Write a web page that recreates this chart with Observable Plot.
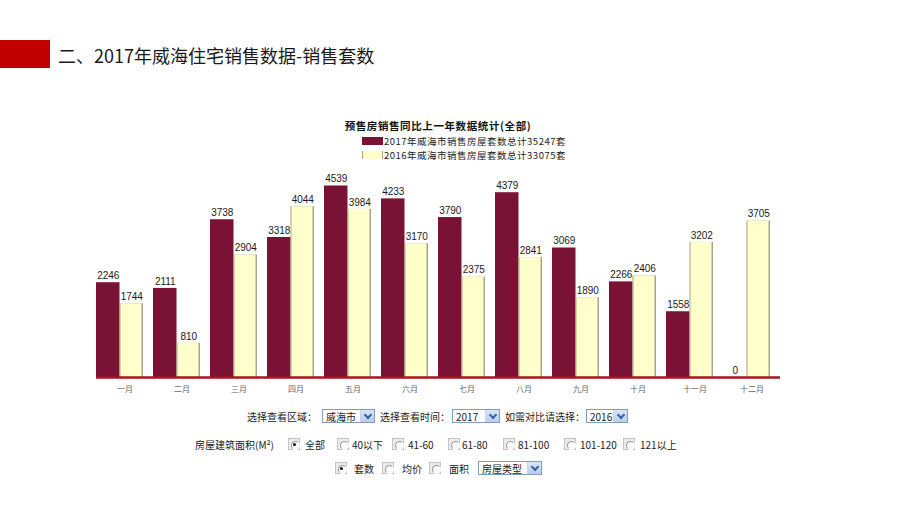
<!DOCTYPE html>
<html>
<head>
<meta charset="utf-8">
<script src="https://cdn.jsdelivr.net/npm/d3@7"></script>
<script src="https://cdn.jsdelivr.net/npm/@observablehq/plot@0.6"></script>
<style>
  html, body { margin: 0; padding: 0; background: #fff; }
  #page { position: relative; width: 920px; height: 518px; overflow: hidden; font-family: "Noto Sans CJK SC", "Noto Sans", sans-serif; }
  #redblock { position: absolute; left: 0; top: 40px; width: 50px; height: 28px; background: #c00000; }
  #title { position: absolute; left: 58px; top: 43px; font-size: 18px; line-height: 24px; color: #1a1a1a; white-space: nowrap; }
  #ctitle { position: absolute; left: 0; width: 876px; text-align: center; top: 118px; font-size: 10.5px; letter-spacing: 0.6px; font-weight: 700; color: #111; line-height: 16px; }
  .leg { position: absolute; left: 362px; font-size: 9.5px; letter-spacing: 0.5px; line-height: 12px; height: 12px; color: #222; display: flex; align-items: center; white-space: nowrap; }
  .sw { width: 21px; height: 8px; margin-right: 1px; box-sizing: border-box; }
  #chart { position: absolute; left: 0; top: 160px; }
  .item { position: absolute; white-space: nowrap; font-size: 10px; color: #222; transform: translateY(-50%); display: flex; align-items: center; }
  .sel { height: 14px; box-sizing: border-box; border: 1px solid #7f9db9; background: #fff; display: flex; align-items: center; justify-content: space-between; padding-left: 3px; font-size: 10px; }
  .btn { width: 13px; height: 12px; background: linear-gradient(#dbe6f7, #b8cdee); border-left: 1px solid #c3d3ef; position: relative; }
  .btn::after { content: ""; position: absolute; left: 4px; top: 2px; width: 4px; height: 4px; border-right: 2px solid #3b5fa8; border-bottom: 2px solid #3b5fa8; transform: rotate(45deg); }
  .radio { width: 12px; height: 12px; box-sizing: border-box; border: 1px solid #c4c4c4; background: #ececec; position: relative; }
  .radio::before { content: ""; position: absolute; left: 1.5px; top: 1.5px; width: 7px; height: 7px; border-radius: 50%; border: 1px solid #9a9a9a; border-right-color: #fff; border-bottom-color: #fff; background: #fafafa; }
  .radio.on::after { content: ""; position: absolute; left: 4px; top: 4px; width: 3px; height: 3px; border-radius: 50%; background: #111; }
</style>
</head>
<body>
<div id="page">
  <div id="redblock"></div>
  <div id="title">二、2017年威海住宅销售数据-销售套数</div>
  <div id="ctitle">预售房销售同比上一年数据统计(全部)</div>
  <div id="legend"></div>
  <div id="chart"></div>
  <div id="form"></div>
</div>
<script>
// ---- data ----
const months = ["一月","二月","三月","四月","五月","六月","七月","八月","九月","十月","十一月","十二月"];
const sales2017 = [2246, 2111, 3738, 3318, 4539, 4233, 3790, 4379, 3069, 2266, 1558, 0];
const sales2016 = [1744, 810, 2904, 4044, 3984, 3170, 2375, 2841, 1890, 2406, 3202, 3705];
const seriesNames = ["2017年威海市销售房屋套数总计35247套", "2016年威海市销售房屋套数总计33075套"];
const seriesColors = ["#7a1236", "#ffffcc"];
const edgeColor = "#a6a48a";

const d2017 = months.map((m, i) => ({month: m, value: sales2017[i]}));
const d2016 = months.map((m, i) => ({month: m, value: sales2016[i]}));

// ---- legend ----
const legend = document.getElementById("legend");
seriesNames.forEach((name, i) => {
  const row = document.createElement("div");
  row.className = "leg";
  row.style.top = (135 + i * 14) + "px";
  const sw = document.createElement("div");
  sw.className = "sw";
  sw.style.background = seriesColors[i];
  if (i === 1) { sw.style.borderLeft = "1px solid " + edgeColor; sw.style.borderRight = "1px solid " + edgeColor; }
  row.appendChild(sw);
  row.appendChild(document.createTextNode(name));
  legend.appendChild(row);
});

// ---- chart ----
const band = (780 - 96) / 12;
const barW = 23.5;
const chart = Plot.plot({
  width: 920,
  height: 240,
  marginLeft: 96,
  marginRight: 140,
  marginTop: 6,
  marginBottom: 23,
  style: {fontFamily: "'Liberation Sans', Arial, sans-serif", background: "transparent", overflow: "visible"},
  x: {domain: months, padding: 0, tickSize: 0, tickPadding: 9, label: null},
  y: {domain: [0, 5000], axis: null},
  marks: [
    Plot.barY(d2017, {x: "month", y: "value", fill: seriesColors[0], insetLeft: 0, insetRight: band - barW}),
    Plot.barY(d2016, {x: "month", y: "value", fill: edgeColor, insetLeft: barW, insetRight: band - 2 * barW}),
    Plot.barY(d2016, {x: "month", y: "value", fill: seriesColors[1], insetLeft: barW + 1, insetRight: band - 2 * barW + 1.5}),
    Plot.ruleY([0], {stroke: "#a8141e", strokeWidth: 2.5}),
    Plot.text(d2017, {x: "month", y: "value", text: d => String(d.value), dx: barW / 2 - band / 2, dy: -7, fontSize: 10, fill: "#1a1a1a"}),
    Plot.text(d2016, {x: "month", y: "value", text: d => String(d.value), dx: barW * 1.5 - band / 2, dy: -7, fontSize: 10, fill: "#1a1a1a"})
  ]
});
chart.querySelectorAll("g[aria-label='x-axis tick label'] text, g[aria-label='x-axis'] text").forEach(t => { t.setAttribute("font-size", "8"); t.setAttribute("fill", "#666"); });
const ax = chart.querySelector("g[aria-label='x-axis tick label']") || chart.querySelector("g[aria-label='x-axis']");
if (ax) { ax.setAttribute("font-size", "8"); ax.setAttribute("fill", "#666"); ax.setAttribute("font-family", "'Noto Sans CJK SC', sans-serif"); }
document.getElementById("chart").appendChild(chart);

// ---- form controls (static picture of the page's selectors) ----
const formItems = [
  ["text", 247, 416, "选择查看区域："],
  ["select", 322, 416, "威海市", 53],
  ["text", 380, 416, "选择查看时间："],
  ["select", 452, 416, "2017", 48],
  ["text", 505, 416, "如需对比请选择："],
  ["select", 586, 416, "2016", 42],
  ["text", 195, 444, "房屋建筑面积(M²)"],
  ["radio", 288, 444, true],
  ["text", 305, 444, "全部"],
  ["radio", 337, 444, false],
  ["text", 352, 444, "40以下"],
  ["radio", 392, 444, false],
  ["text", 408, 444, "41-60"],
  ["radio", 448, 444, false],
  ["text", 462, 444, "61-80"],
  ["radio", 503, 444, false],
  ["text", 518, 444, "81-100"],
  ["radio", 564, 444, false],
  ["text", 580, 444, "101-120"],
  ["radio", 623, 444, false],
  ["text", 640, 444, "121以上"],
  ["radio", 335, 468, true],
  ["text", 354, 468, "套数"],
  ["radio", 382, 468, false],
  ["text", 402, 468, "均价"],
  ["radio", 429, 468, false],
  ["text", 449, 468, "面积"],
  ["select", 478, 468, "房屋类型", 64]
];
const form = document.getElementById("form");
formItems.forEach(it => {
  const el = document.createElement("div");
  el.className = "item";
  el.style.left = it[1] + "px";
  el.style.top = it[2] + "px";
  if (it[0] === "text") {
    el.textContent = it[3];
  } else if (it[0] === "radio") {
    const r = document.createElement("div");
    r.className = "radio" + (it[3] ? " on" : "");
    el.appendChild(r);
  } else {
    const s = document.createElement("div");
    s.className = "sel";
    s.style.width = it[4] + "px";
    const t = document.createElement("span");
    t.textContent = it[3];
    const b = document.createElement("div");
    b.className = "btn";
    s.appendChild(t); s.appendChild(b);
    el.appendChild(s);
  }
  form.appendChild(el);
});
</script>
</body>
</html>
